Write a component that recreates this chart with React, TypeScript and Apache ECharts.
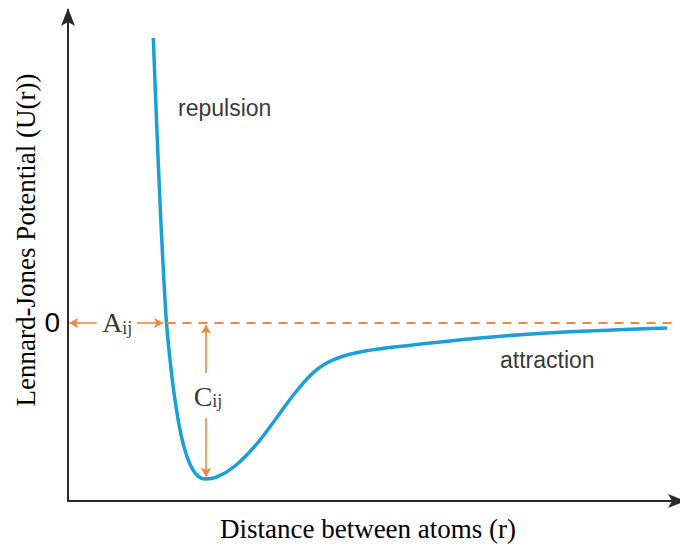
import React, { useEffect, useRef } from "react";
import * as echarts from "echarts";

// Distance between atoms (r) and Lennard-Jones potential U(r)
const distance = [0.853, 0.877, 0.913, 0.943, 0.97, 0.985, 1.01, 1.07, 1.15, 1.25, 1.37, 1.49, 1.67, 1.87, 2.07, 2.27, 2.47, 2.67, 2.97, 3.45, 4.12, 4.79, 5.45, 5.99];
const potential = [1.921, 1.503, 0.917, 0.492, 0.155, 0, -0.182, -0.519, -0.809, -0.991, -1.052, -1.038, -0.964, -0.829, -0.654, -0.472, -0.324, -0.243, -0.189, -0.148, -0.101, -0.067, -0.047, -0.034];

const yTickLabels = ["0"];
const xTitle = "Distance between atoms (r)";
const yTitle = "Lennard-Jones Potential (U(r))";
const regionLabels = ["repulsion", "attraction"];

const X_MIN = 0;
const X_MAX = 6.12;
const ZERO_LINE_END = 6.06;
const Y_MIN = -1.2;
const Y_MAX = 2.11;
const Y_INTERVAL = 0.6;

const BLUE = "#1A9FD9";
const ORANGE = "#EE8A3E";
const AXIS = "#2a2a2a";
const SERIF = "'Liberation Serif', 'Times New Roman', serif";
const SANS = "'Liberation Sans', Arial, sans-serif";

export default function App() {
  const ref = useRef<HTMLDivElement>(null);

  useEffect(() => {
    if (!ref.current) return;
    const chart = echarts.init(ref.current, null, { renderer: "svg" });

    // zero crossing (A_ij) and well minimum (C_ij) derived from the data
    const zeroIdx = potential.findIndex((v) => v <= 0);
    const zeroR = distance[zeroIdx];
    let wellIdx = 0;
    potential.forEach((v, i) => {
      if (v < potential[wellIdx]) wellIdx = i;
    });
    const wellR = distance[wellIdx];
    const depth = potential[wellIdx];

    const arrowStyle = { color: ORANGE, width: 1.6, type: "solid" as const };
    const seg = (a: number[], b: number[]) => [
      { coord: a, symbol: "none", lineStyle: arrowStyle },
      { coord: b, symbol: "arrow", lineStyle: arrowStyle },
    ];

    const cx = wellR + 0.01;

    const labelData = [
      { value: [zeroR / 2, 0], txt: "{m|A}{s|ij}", align: "center" },
      { value: [wellR + 0.03, depth * 0.47], txt: "{m|C}{s|ij}", align: "center" },
      { value: [1.1, 1.449], txt: "{t|" + regionLabels[0] + "}", align: "left" },
      { value: [4.32, -0.249], txt: "{t|" + regionLabels[1] + "}", align: "left" },
    ];

    const axisCommon = {
      axisLine: { show: true, onZero: false, lineStyle: { color: AXIS, width: 2 } },
      axisTick: { show: false },
      splitLine: { show: false },
    };

    chart.setOption({
      animation: false,
      grid: { left: 68, right: 0, top: 10, bottom: 43, containLabel: false, outerBoundsMode: "none" },
      xAxis: {
        type: "value",
        min: X_MIN,
        max: X_MAX,
        ...axisCommon,
        axisLabel: { show: false },
      },
      yAxis: {
        type: "value",
        min: Y_MIN,
        max: Y_MAX,
        interval: Y_INTERVAL,
        ...axisCommon,
        axisLabel: {
          show: true,
          margin: 8,
          color: "#000",
          fontFamily: SANS,
          fontSize: 28,
          formatter: (v: number) => (Math.abs(v) < 1e-9 ? yTickLabels[0] : ""),
        },
      },
      graphic: [
        // axis arrow heads
        {
          type: "polygon",
          silent: true,
          z: 10,
          shape: { points: [[68, 8], [75, 26], [68, 22], [61, 26]] },
          style: { fill: AXIS },
        },
        {
          type: "polygon",
          silent: true,
          z: 10,
          shape: { points: [[686, 501], [668, 508], [672, 501], [668, 494]] },
          style: { fill: AXIS },
        },
        {
          type: "text",
          x: 368,
          y: 529,
          silent: true,
          style: {
            text: xTitle,
            fill: "#000",
            font: "27px " + SERIF,
            textAlign: "center",
            textVerticalAlign: "middle",
          },
        },
        {
          type: "text",
          x: 26,
          y: 240,
          rotation: Math.PI / 2,
          silent: true,
          style: {
            text: yTitle,
            fill: "#000",
            font: "27px " + SERIF,
            textAlign: "center",
            textVerticalAlign: "middle",
          },
        },
      ],
      series: [
        {
          name: "U(r)",
          type: "line",
          data: distance.map((r, i) => [r, potential[i]]),
          smooth: 0.4,
          showSymbol: false,
          symbol: "none",
          lineStyle: { color: BLUE, width: 3.5 },
          z: 3,
        },
        {
          name: "annotations",
          type: "scatter",
          symbolSize: 0,
          silent: true,
          clip: false,
          data: labelData.map((d) => ({
            value: d.value,
            label: {
              show: true,
              position: "inside",
              align: d.align,
              verticalAlign: "middle",
              formatter: d.txt,
            },
          })),
          label: {
            show: true,
            color: "#000",
            rich: {
              m: { fontFamily: SERIF, fontSize: 28, color: "#000" },
              s: { fontFamily: SERIF, fontSize: 18, color: "#000", verticalAlign: "bottom" },
              t: { fontFamily: SANS, fontSize: 23, color: "#000" },
            },
          },
          markLine: {
            silent: true,
            symbolSize: [8, 9],
            label: { show: false },
            data: [
              [
                { coord: [zeroR, 0], symbol: "none", lineStyle: { color: ORANGE, width: 2, type: [9, 7] } },
                { coord: [ZERO_LINE_END, 0], symbol: "none", lineStyle: { color: ORANGE, width: 2, type: [9, 7] } },
              ],
              seg([zeroR * 0.29, 0], [zeroR * 0.012, 0]),
              seg([zeroR * 0.7, 0], [zeroR * 0.965, 0]),
              seg([cx, depth * 0.32], [cx, depth * 0.012]),
              seg([cx, depth * 0.61], [cx, depth * 0.985]),
            ],
          },
          z: 4,
        },
      ],
    });

    return () => chart.dispose();
  }, []);

  return (
    <div
      ref={ref}
      style={{ position: "fixed", left: 0, top: 0, width: 680, height: 544, background: "#fff" }}
    />
  );
}
